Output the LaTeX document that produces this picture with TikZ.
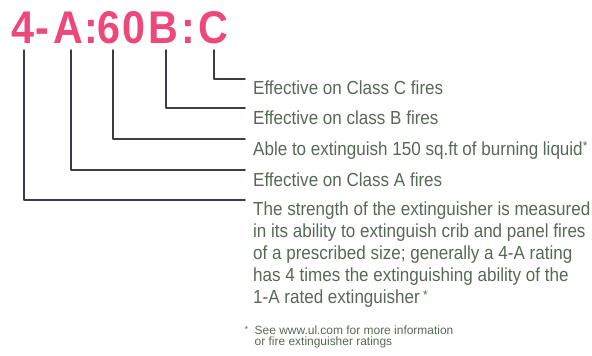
\documentclass[tikz,border=0pt]{standalone}
\usepackage{fontspec}
\setmainfont{Liberation Sans}[FakeStretch=0.90]
\newfontfamily\footfont{Liberation Sans}
\usepackage{tikz}
\usetikzlibrary{positioning}

\definecolor{rating}{RGB}{238,72,122}
\definecolor{note}{RGB}{88,104,86}
\definecolor{leader}{RGB}{58,60,70}

\newcommand{\fnmark}{\raisebox{0.45ex}{\fontsize{13}{13}\selectfont*}}

\begin{document}
\begin{tikzpicture}[line cap=round,line join=round,x=1bp,y=-1bp,
  glyph/.style={anchor=base,inner sep=0pt,text=rating,font=\fontsize{46}{46}\selectfont\bfseries},
  lbl/.style={anchor=base west,inner sep=0pt,text=note,font=\fontsize{19}{22}\selectfont},
  lead/.style={draw=leader,line width=1.5bp}]

\useasboundingbox (0,0) rectangle (592,355);

% the rating, one glyph at a time
\node[glyph] (g4) at (22.5,43) {4};
\node[glyph] (gdash) at (42.5,43) {-};
\node[glyph] (gA) at (68,43) {A};
\node[glyph] (gcol) at (91.5,43) {:};
\node[glyph] (g6) at (109,43) {6};
\node[glyph] (g0) at (134,43) {0};
\node[glyph] (gB) at (163.5,43) {B};
\node[glyph] (gcolb) at (188.5,43) {:};
\node[glyph] (gC) at (213.5,43) {C};

% where the leaders start and end
\coordinate (top4) at (24,50);
\coordinate (topA) at (71,50);
\coordinate (top6) at (113,50);
\coordinate (topB) at (166,50);
\coordinate (topC) at (214,50);
\coordinate (end4) at (245,200);
\coordinate (endA) at (245,170);
\coordinate (end6) at (245,139);
\coordinate (endB) at (245,108);
\coordinate (endC) at (245,79);

% labels
\node[lbl] (lblC) at (253,94.5) {Effective on Class C fires};
\node[lbl] (lblB) at (253,124) {Effective on class B fires};
\node[lbl] (lbl6) at (253,155) {Able to extinguish 150 sq.ft of burning liquid\fnmark};
\node[lbl] (lblA) at (253,186) {Effective on Class A fires};
\node[lbl,anchor=north west,align=left] (lbl4) at (253,202)
  {The strength of the extinguisher is measured\\
   in its ability to extinguish crib and panel fires\\
   of a prescribed size; generally a 4-A rating\\
   has 4 times the extinguishing ability of the\\
   1-A rated extinguisher\,\fnmark};
\node[lbl,anchor=north west,align=left,font=\footfont\fontsize{12}{11.5}\selectfont] (foot) at (254.5,325.5)
  {\llap{\raisebox{0.3ex}{\small*}\ \ }See www.ul.com for more information\\
   or fire extinguisher ratings};

% leaders
\draw[lead] (topC) |- (endC);
\draw[lead] (topB) |- (endB);
\draw[lead] (top6) |- (end6);
\draw[lead] (topA) |- (endA);
\draw[lead] (top4) |- (end4);

\end{tikzpicture}
\end{document}
